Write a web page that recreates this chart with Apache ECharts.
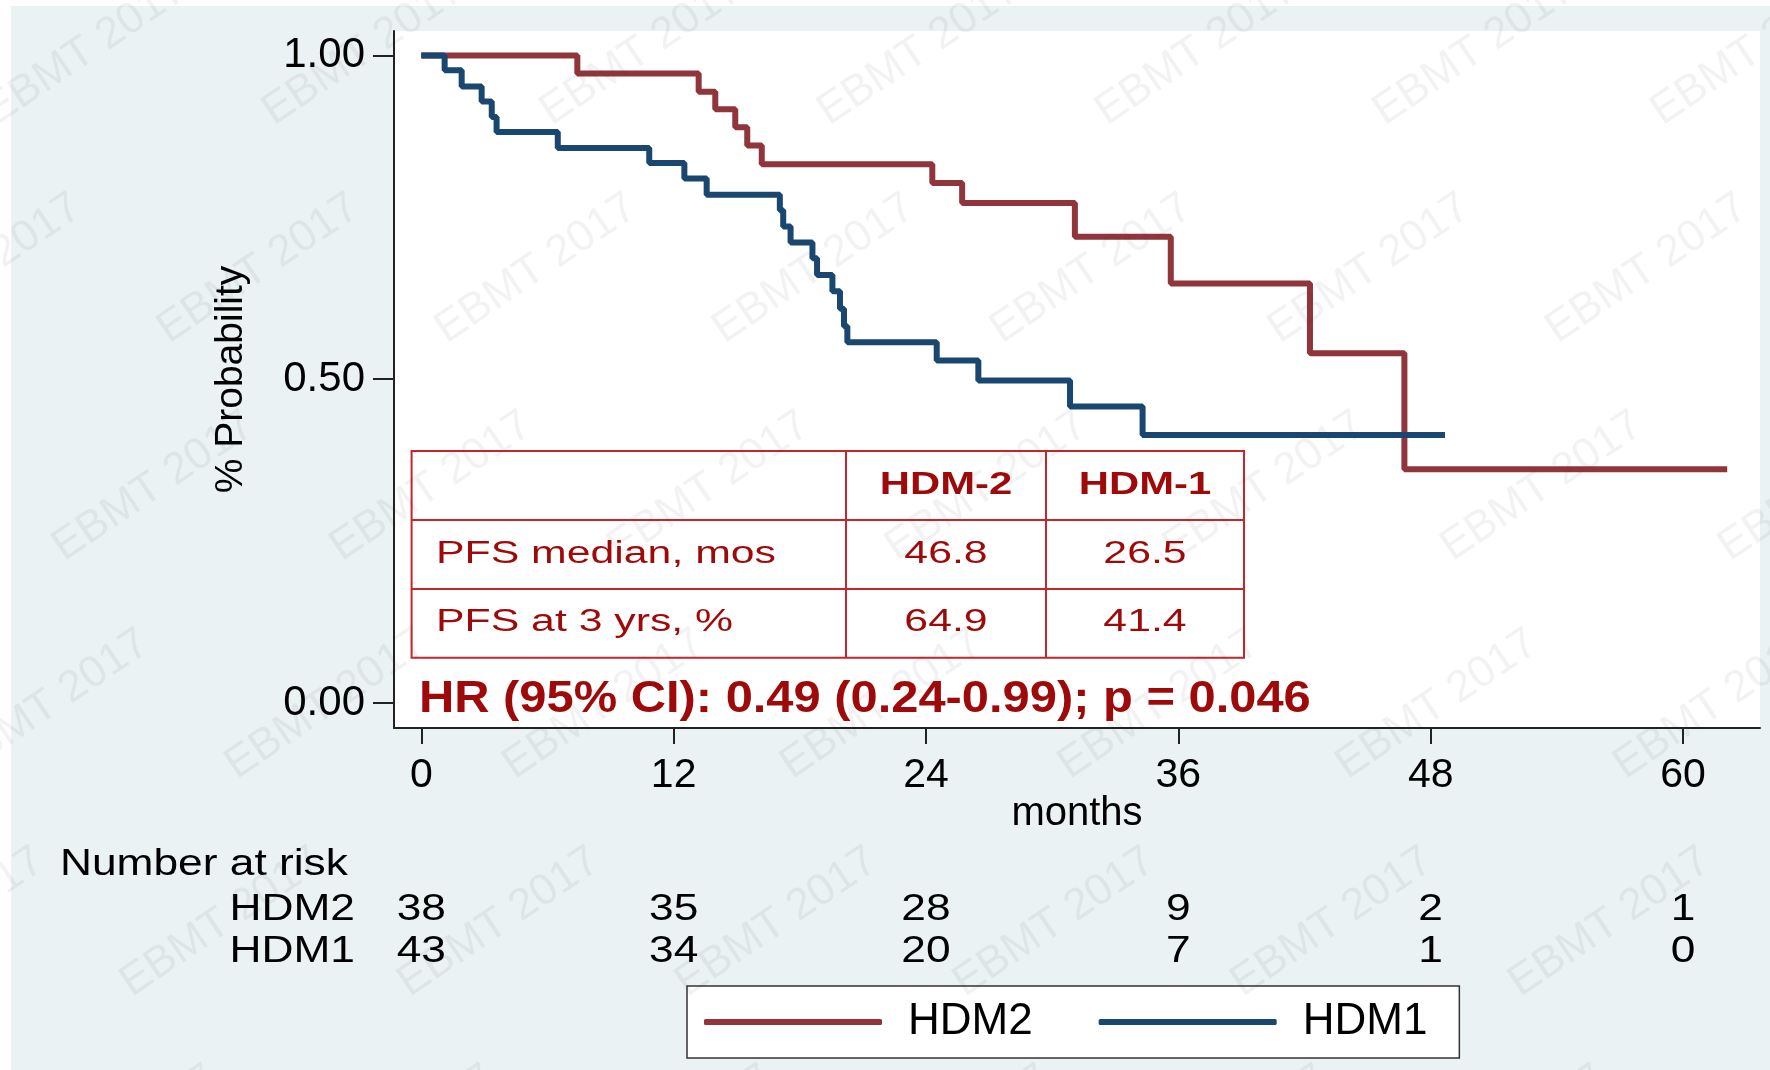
<!DOCTYPE html>
<html><head><meta charset="utf-8">
<script src="https://cdn.jsdelivr.net/npm/echarts/dist/echarts.min.js"></script>
<style>html,body{margin:0;padding:0;background:#fff}#c{width:1770px;height:1070px}</style>
</head><body><div id="c"></div>
<script>
// ---- data ----
const xTicks = [0, 12, 24, 36, 48, 60];
const yTicks = [0, 0.5, 1];
const hdm2Times = [0, 7.42, 13.19, 13.98, 14.93, 15.50, 16.19, 24.30, 25.72, 31.08, 35.64, 42.26, 46.75, 62.1];
const hdm2Surv  = [1, 0.972, 0.944, 0.917, 0.889, 0.861, 0.832, 0.803, 0.772, 0.720, 0.648, 0.540, 0.361, 0.361];
const hdm1Times = [0, 1.11, 1.92, 2.87, 3.35, 3.58, 6.49, 10.84, 12.51, 13.57, 17.05, 17.21, 17.56, 18.6, 18.82, 19.55, 19.91, 20.1, 20.26, 24.51, 26.49, 30.85, 34.30, 48.68];
const hdm1Surv  = [1, 0.977, 0.952, 0.929, 0.905, 0.882, 0.857, 0.834, 0.810, 0.785, 0.761, 0.736, 0.711, 0.687, 0.661, 0.636, 0.609, 0.582, 0.557, 0.529, 0.498, 0.458, 0.414, 0.414];
const riskTimes = [0, 12, 24, 36, 48, 60];
const riskHDM2 = [38, 35, 28, 9, 2, 1];
const riskHDM1 = [43, 34, 20, 7, 1, 0];
const riskLabels = ['HDM2', 'HDM1'];
const statHeaders = ['HDM-2', 'HDM-1'];
const statRows = ['PFS median, mos', 'PFS at 3 yrs, %'];
const statHDM2 = ['46.8', '64.9'];
const statHDM1 = ['26.5', '41.4'];
const hrText = 'HR (95% CI): 0.49 (0.24-0.99); p = 0.046';
const watermark = 'EBMT 2017';

// ---- styles ----
const FONT = "'Liberation Sans', Arial, sans-serif";
const RED = '#90353b', BLUE = '#1a476f', AX = '#222';
const TRED = '#9e0a0a', TBORDER = '#c4262b';

const chart = echarts.init(document.getElementById('c'));

// table geometry
const T = { l: 411.6, t: 451, r: 1244, c1: 846, c2: 1046, rows: [451, 520, 589, 657.7] };
const tableGraphics = [];
const line = (x1, y1, x2, y2) => ({ type: 'line', z: 50, silent: true,
  shape: { x1, y1, x2, y2 }, style: { stroke: TBORDER, lineWidth: 2 } });
tableGraphics.push({ type: 'rect', z: 49, silent: true, shape: { x: T.l, y: T.t, width: T.r - T.l, height: T.rows[3] - T.t }, style: { fill: '#fff', stroke: TBORDER, lineWidth: 2 } });
tableGraphics.push(line(T.l, T.rows[1], T.r, T.rows[1]));
tableGraphics.push(line(T.l, T.rows[2], T.r, T.rows[2]));
tableGraphics.push(line(T.c1, T.t, T.c1, T.rows[3]));
tableGraphics.push(line(T.c2, T.t, T.c2, T.rows[3]));
const colC = [(T.c1 + T.c2) / 2, (T.c2 + T.r) / 2];
const txt = (text, x, y, o) => Object.assign({ type: 'text', z: 60, silent: true, x, y,
  style: Object.assign({ text, fontFamily: FONT, fontSize: 30, fill: TRED, align: 'center', verticalAlign: 'middle' }, o.style || {}) },
  o.el || {});
statHeaders.forEach((h, i) => tableGraphics.push(txt(h, colC[i], 485, { el: { scaleX: 1.35 }, style: { fontWeight: 'bold', fontSize: 31 } })));
statRows.forEach((r, i) => {
  const cy = [554, 622][i];
  tableGraphics.push(txt(r, 436, cy, { el: { scaleX: 1.38 }, style: { align: 'left', fontSize: 31 } }));
  tableGraphics.push(txt(statHDM2[i], colC[0], cy, { el: { scaleX: 1.38 }, style: { fontSize: 31 } }));
  tableGraphics.push(txt(statHDM1[i], colC[1], cy, { el: { scaleX: 1.38 }, style: { fontSize: 31 } }));
});
tableGraphics.push(txt(hrText, 419, 700, { el: { scaleX: 1.11 }, style: { align: 'left', fontWeight: 'bold', fontSize: 44 } }));

// risk table labels
const riskGraphics = [
  { type: 'text', z: 10, silent: true, x: 60, y: 865, scaleX: 1.23,
    style: { text: 'Number at risk', fontFamily: FONT, fontSize: 36, fill: '#000', align: 'left', verticalAlign: 'middle' } },
  { type: 'text', z: 10, silent: true, x: 355, y: 910, scaleX: 1.23,
    style: { text: riskLabels[0], fontFamily: FONT, fontSize: 36, fill: '#000', align: 'right', verticalAlign: 'middle' } },
  { type: 'text', z: 10, silent: true, x: 355, y: 952, scaleX: 1.23,
    style: { text: riskLabels[1], fontFamily: FONT, fontSize: 36, fill: '#000', align: 'right', verticalAlign: 'middle' } }
];

// faint diagonal watermark, repeated across the image
const wmGraphics = [];
for (let r = 0; r < 6; r++) {
  const cy = (45 + r * 193) * 1.1288;
  const shift = ((322 - r * 93) % 246 + 246) % 246;
  for (let k = -1; k < 8; k++) {
    const cx = (shift + k * 246) * 1.1288;
    wmGraphics.push({ type: 'text', z: 200, silent: true, x: cx, y: cy, rotation: 34 * Math.PI / 180,
      style: { text: watermark, fontFamily: FONT, fontSize: 44, fill: 'rgba(60,60,60,0.065)', align: 'center', verticalAlign: 'middle' } });
  }
}

const option = {
  animation: false,
  backgroundColor: 'transparent',
  graphic: [
    { type: 'rect', z: -100, silent: true, shape: { x: 11, y: 6, width: 1770, height: 1070 }, style: { fill: '#eaf2f3' } }
  ].concat(tableGraphics, riskGraphics, wmGraphics),
  grid: { left: 394, top: 31, right: 10, bottom: 342, show: true, backgroundColor: '#fff', borderWidth: 0 },
  legend: {
    data: ['HDM2', 'HDM1'], left: 687, top: 986, orient: 'horizontal',
    backgroundColor: '#fff', borderColor: '#333', borderWidth: 1.5, borderRadius: 0,
    padding: [14, 32, 14, 17], itemWidth: 178, itemHeight: 6, itemGap: 66, icon: 'roundRect',
    textStyle: { fontSize: 44, fontFamily: FONT, color: '#000', padding: [0, 0, 0, 21], lineHeight: 44 }
  },
  xAxis: {
    type: 'value', min: -1.298, max: 63.66,
    axisLine: { show: true, onZero: false, lineStyle: { color: AX, width: 2 } },
    axisTick: { show: true, customValues: xTicks, length: 16, lineStyle: { color: AX, width: 2 } },
    axisLabel: { customValues: xTicks, fontSize: 41, fontFamily: FONT, color: '#000', margin: 27 },
    splitLine: { show: false },
    name: 'months', nameLocation: 'middle', nameGap: 66, nameMoveOverlap: false,
    nameTextStyle: { fontSize: 40, fontFamily: FONT, color: '#000' }
  },
  yAxis: {
    type: 'value', min: -0.0386, max: 1.0378,
    axisLine: { show: true, onZero: false, lineStyle: { color: AX, width: 2 } },
    axisTick: { show: true, customValues: yTicks, length: 21, lineStyle: { color: AX, width: 2 } },
    axisLabel: { customValues: yTicks, fontSize: 42, fontFamily: FONT, color: '#000', margin: 29,
      formatter: v => v.toFixed(2) },
    splitLine: { show: false },
    name: '% Probability', nameLocation: 'middle', nameGap: 143, nameMoveOverlap: false,
    nameTextStyle: { fontSize: 39, fontFamily: FONT, color: '#000' }
  },
  series: [
    { name: 'HDM2', type: 'line', step: 'end', symbol: 'none', showSymbol: false, z: 3,
      data: hdm2Times.map((t, i) => [t, hdm2Surv[i]]),
      lineStyle: { color: RED, width: 6 }, itemStyle: { color: RED } },
    { name: 'HDM1', type: 'line', step: 'end', symbol: 'none', showSymbol: false, z: 4,
      data: hdm1Times.map((t, i) => [t, hdm1Surv[i]]),
      lineStyle: { color: BLUE, width: 6 }, itemStyle: { color: BLUE } },
    { name: 'risk', type: 'custom', silent: true, clip: false, z: 10,
      data: riskTimes.map((t, i) => [t, riskHDM2[i], riskHDM1[i]]),
      encode: { x: 0, y: 1 },
      renderItem: (params, api) => {
        const x = api.coord([api.value(0), 0])[0];
        const mk = (v, y) => ({ type: 'text', x, y, scaleX: 1.23,
          style: { text: String(v), fontFamily: FONT, fontSize: 36, fill: '#000', align: 'center', verticalAlign: 'middle' } });
        return { type: 'group', children: [mk(api.value(1), 910), mk(api.value(2), 952)] };
      } }
  ]
};
chart.setOption(option);
</script></body></html>
